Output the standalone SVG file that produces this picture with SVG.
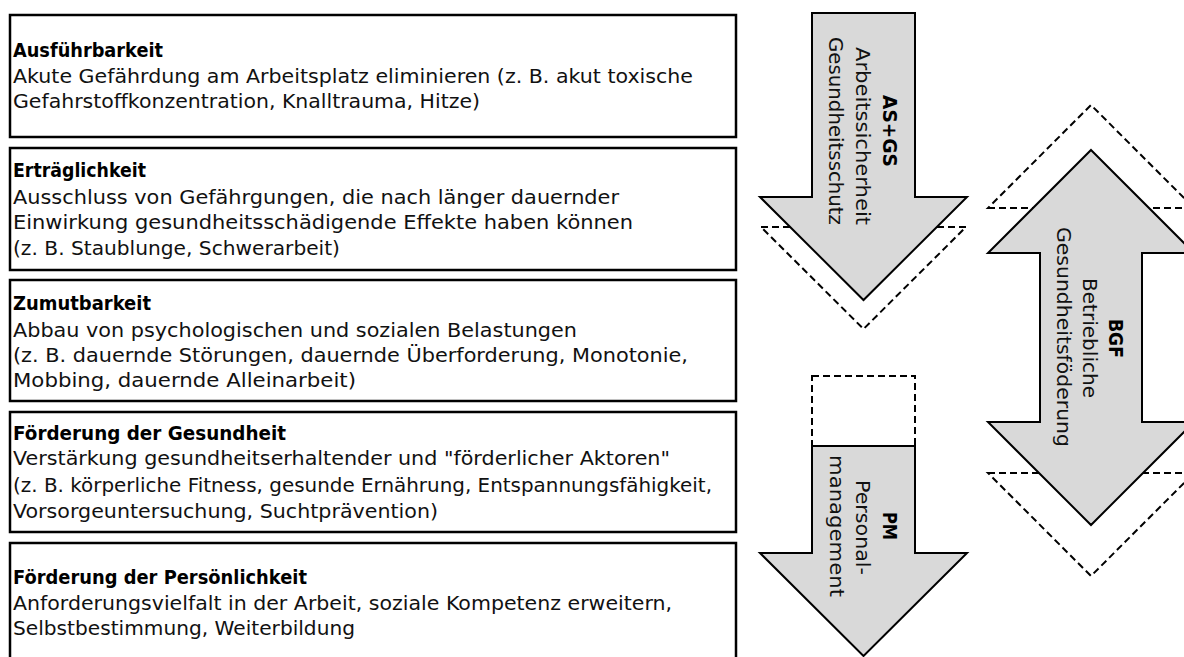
<svg xmlns="http://www.w3.org/2000/svg" width="1184" height="657" viewBox="0 0 1184 657">
<style>
.box{fill:#fff;stroke:#000;stroke-width:2.5}
.t{font-family:"DejaVu Sans","Liberation Sans",sans-serif;font-size:19px;fill:#111}
.b{font-weight:bold;fill:#000}
.arr{fill:#d9d9d9;stroke:#000;stroke-width:2;stroke-linejoin:miter}
.dash{fill:none;stroke:#000;stroke-width:2;stroke-dasharray:7 4}
</style>
<rect width="1184" height="657" fill="#fff"/>
<g id="box-ausfuehrbarkeit">
<rect class="box" x="10" y="15" width="726" height="122"/>
<text class="t b" x="13" y="57" textLength="150" lengthAdjust="spacingAndGlyphs">Ausführbarkeit</text>
<text class="t" x="13" y="83" textLength="680" lengthAdjust="spacingAndGlyphs">Akute Gefährdung am Arbeitsplatz eliminieren (z. B. akut toxische</text>
<text class="t" x="13" y="108" textLength="467" lengthAdjust="spacingAndGlyphs">Gefahrstoffkonzentration, Knalltrauma, Hitze)</text>
</g>
<g id="box-ertraeglichkeit">
<rect class="box" x="10" y="148" width="726" height="122"/>
<text class="t b" x="13" y="177" textLength="133" lengthAdjust="spacingAndGlyphs">Erträglichkeit</text>
<text class="t" x="13" y="204" textLength="606" lengthAdjust="spacingAndGlyphs">Ausschluss von Gefährgungen, die nach länger dauernder</text>
<text class="t" x="13" y="229" textLength="620" lengthAdjust="spacingAndGlyphs">Einwirkung gesundheitsschädigende Effekte haben können</text>
<text class="t" x="13" y="255" textLength="327" lengthAdjust="spacingAndGlyphs">(z. B. Staublunge, Schwerarbeit)</text>
</g>
<g id="box-zumutbarkeit">
<rect class="box" x="10" y="280" width="726" height="121"/>
<text class="t b" x="13" y="310" textLength="138" lengthAdjust="spacingAndGlyphs">Zumutbarkeit</text>
<text class="t" x="13" y="337" textLength="564" lengthAdjust="spacingAndGlyphs">Abbau von psychologischen und sozialen Belastungen</text>
<text class="t" x="13" y="362" textLength="675" lengthAdjust="spacingAndGlyphs">(z. B. dauernde Störungen, dauernde Überforderung, Monotonie,</text>
<text class="t" x="13" y="387" textLength="343" lengthAdjust="spacingAndGlyphs">Mobbing, dauernde Alleinarbeit)</text>
</g>
<g id="box-gesundheit">
<rect class="box" x="10" y="412" width="726" height="120"/>
<text class="t b" x="13" y="440" textLength="273" lengthAdjust="spacingAndGlyphs">Förderung der Gesundheit</text>
<text class="t" x="13" y="465" textLength="657" lengthAdjust="spacingAndGlyphs">Verstärkung gesundheitserhaltender und "förderlicher Aktoren"</text>
<text class="t" x="13" y="492" textLength="699" lengthAdjust="spacingAndGlyphs">(z. B. körperliche Fitness, gesunde Ernährung, Entspannungsfähigkeit,</text>
<text class="t" x="13" y="518" textLength="425" lengthAdjust="spacingAndGlyphs">Vorsorgeuntersuchung, Suchtprävention)</text>
</g>
<g id="box-persoenlichkeit">
<rect class="box" x="10" y="543" width="726" height="140"/>
<text class="t b" x="13" y="584" textLength="294" lengthAdjust="spacingAndGlyphs">Förderung der Persönlichkeit</text>
<text class="t" x="13" y="610" textLength="659" lengthAdjust="spacingAndGlyphs">Anforderungsvielfalt in der Arbeit, soziale Kompetenz erweitern,</text>
<text class="t" x="13" y="635" textLength="342" lengthAdjust="spacingAndGlyphs">Selbstbestimmung, Weiterbildung</text>
</g>
<g id="arrow-asgs">
<polygon class="dash" points="761,227 966,227 863.5,329"/>
<polygon class="arr" points="812,13 915,13 915,197 967,197 863.5,300 760,197 812,197"/>
<text class="t b" transform="translate(883,95) rotate(90)" textLength="72" lengthAdjust="spacingAndGlyphs">AS+GS</text>
<text class="t" transform="translate(856,47) rotate(90)" textLength="178" lengthAdjust="spacingAndGlyphs">Arbeitssicherheit</text>
<text class="t" transform="translate(829,37) rotate(90)" textLength="188" lengthAdjust="spacingAndGlyphs">Gesundheitsschutz</text>
</g>
<g id="arrow-bgf">
<polygon class="dash" points="988,208 1194,208 1091,105"/>
<polygon class="dash" points="988,473 1194,473 1091,576"/>
<polygon class="arr" points="1091,150 1194,253 1142,253 1142,422 1194,422 1091,525 988,422 1040,422 1040,253 988,253"/>
<text class="t b" transform="translate(1109,319) rotate(90)" textLength="39" lengthAdjust="spacingAndGlyphs">BGF</text>
<text class="t" transform="translate(1083,278) rotate(90)" textLength="120" lengthAdjust="spacingAndGlyphs">Betriebliche</text>
<text class="t" transform="translate(1057,227) rotate(90)" textLength="220" lengthAdjust="spacingAndGlyphs">Gesundheitsföderung</text>
</g>
<g id="arrow-pm">
<rect class="dash" x="812" y="376" width="103" height="70"/>
<polygon class="arr" points="812,446 915,446 915,553 967,553 863.5,656 760,553 812,553"/>
<text class="t b" transform="translate(883,512) rotate(90)" textLength="28" lengthAdjust="spacingAndGlyphs">PM</text>
<text class="t" transform="translate(856,480) rotate(90)" textLength="95" lengthAdjust="spacingAndGlyphs">Personal-</text>
<text class="t" transform="translate(830,455) rotate(90)" textLength="142" lengthAdjust="spacingAndGlyphs">management</text>
</g>
</svg>
